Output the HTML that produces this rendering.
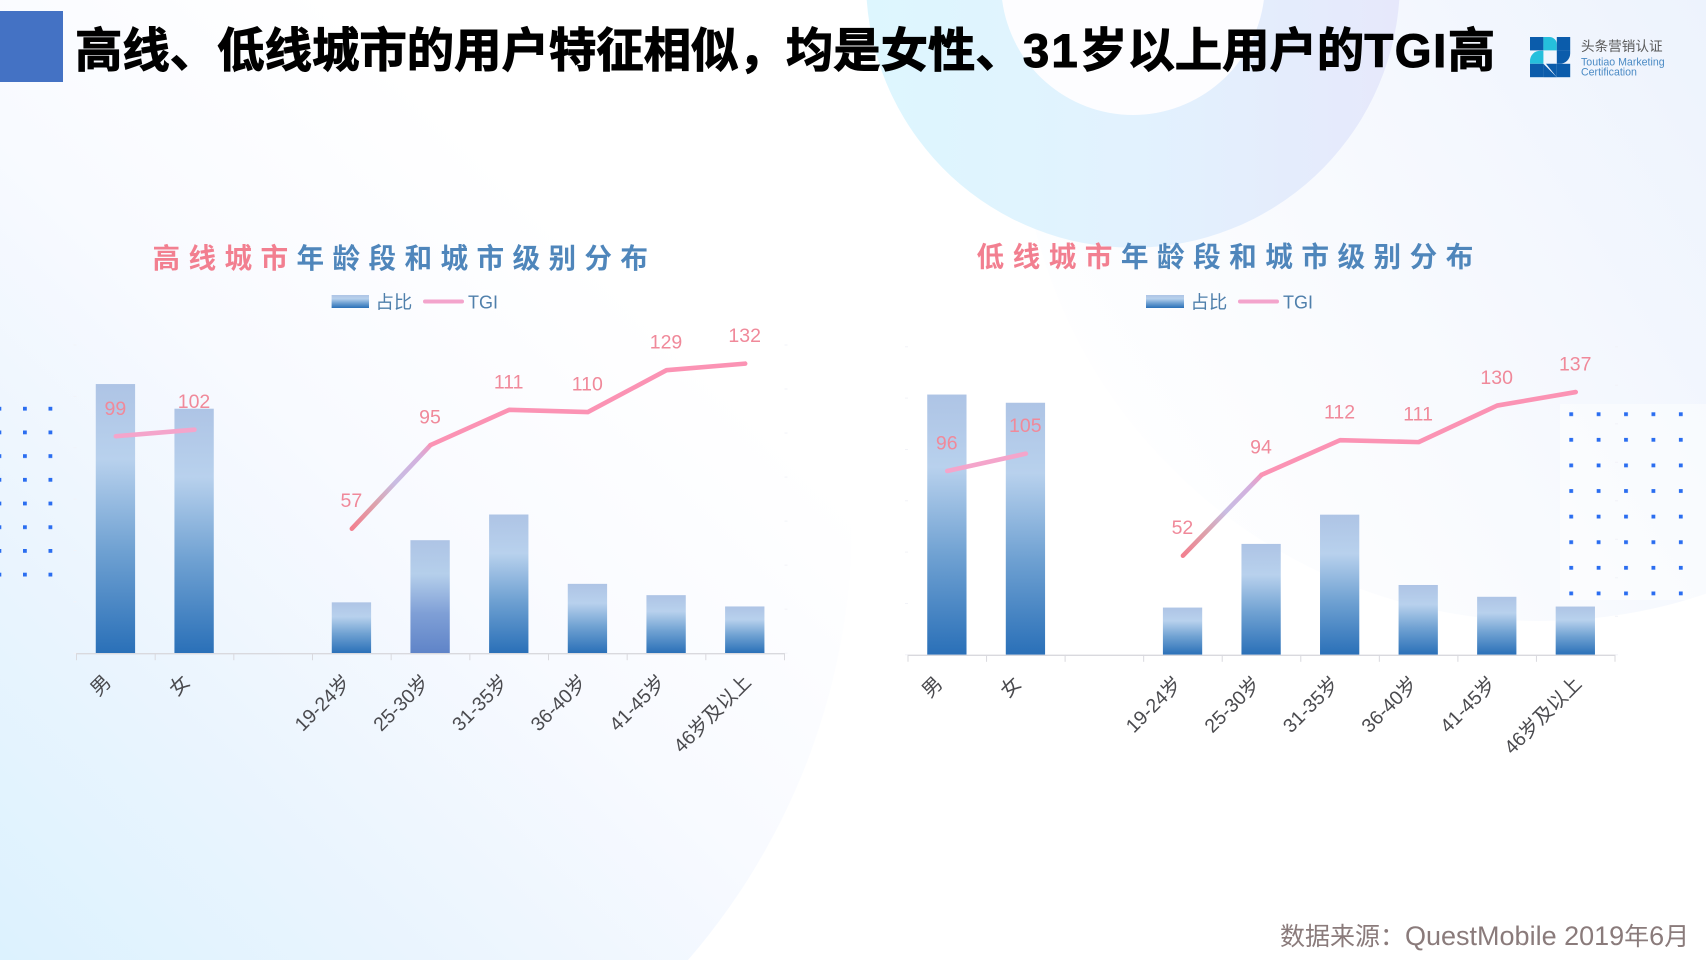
<!DOCTYPE html>
<html lang="zh">
<head>
<meta charset="utf-8">
<title>高线、低线城市用户特征</title>
<style>
html,body{margin:0;padding:0;width:1706px;height:960px;overflow:hidden;background:#fff}
#stage{position:relative;width:1706px;height:960px;overflow:hidden;font-family:"Liberation Sans","Noto Sans CJK SC",sans-serif}
svg{position:absolute;left:0;top:0}
#slide-title{position:absolute;left:75px;top:17px;font-size:47.4px;line-height:70px;font-weight:700;color:#000;white-space:nowrap;-webkit-text-stroke:1px #000}
#slide-title .num{letter-spacing:2.2px}
#slide-title .lat{letter-spacing:1.5px}
#source-note{position:absolute;left:1280px;top:919px;font-size:25px;line-height:34px;color:#8a7b7b;white-space:nowrap}
#source-note .lat{font-size:27px}
#accent-block{position:absolute;left:0;top:11px;width:63px;height:71px;background:#4472c4}
</style>
</head>
<body>
<div id="stage">
<svg id="bg" width="1706" height="960" viewBox="0 0 1706 960">
  <defs>
    <linearGradient id="bgLeft" gradientUnits="userSpaceOnUse" x1="0" y1="960" x2="640" y2="300">
      <stop offset="0" stop-color="#dcf2fe"/>
      <stop offset=".3" stop-color="#e9f4fe"/>
      <stop offset=".65" stop-color="#f8faff"/>
      <stop offset="1" stop-color="#ffffff"/>
    </linearGradient>
    <linearGradient id="bgRight" gradientUnits="userSpaceOnUse" x1="1040" y1="420" x2="1706" y2="0">
      <stop offset="0" stop-color="#ffffff"/>
      <stop offset=".45" stop-color="#f8fafe"/>
      <stop offset="1" stop-color="#edf3fd"/>
    </linearGradient>
    <linearGradient id="ringFill" gradientUnits="userSpaceOnUse" x1="866" y1="0" x2="1400" y2="0">
      <stop offset="0" stop-color="#ddf6fe"/>
      <stop offset=".5" stop-color="#e2f2fe"/>
      <stop offset="1" stop-color="#e6e8fb"/>
    </linearGradient>
    <pattern id="dotsLeft" x="-2.5" y="406.8" width="25.5" height="23.7" patternUnits="userSpaceOnUse">
      <rect width="3.8" height="3.8" fill="#2a6df0"/>
    </pattern>
    <pattern id="dotsRight" x="1569.3" y="412.3" width="27.4" height="25.6" patternUnits="userSpaceOnUse">
      <rect width="3.8" height="3.8" fill="#2a6df0"/>
    </pattern>
  </defs>
  <rect width="1706" height="960" fill="#ffffff"/>
  <path d="M0 0H605.6A672 672 0 0 1 688 960H0Z" fill="url(#bgLeft)"/>
  <path d="M1028.7 0H1706V593.8A521 521 0 0 1 1028.7 0Z" fill="url(#bgRight)"/>
  <path d="M1002.1 0A132 132 0 0 0 1263.9 0Z" fill="#fdfdff"/>
  <path d="M866.7 0A267 267 0 0 0 1399.3 0H1263.9A132 132 0 0 1 1002.1 0Z" fill="url(#ringFill)"/>
  <rect x="0" y="406" width="53" height="172" fill="url(#dotsLeft)"/>
  <rect x="1560" y="404" width="146" height="196" fill="#ffffff" opacity=".45"/>
  <rect x="1569" y="412" width="116" height="185" fill="url(#dotsRight)"/>
</svg>

<div id="accent-block"></div>
<div id="slide-title">高线、低线城市的用户特征相似，均是女性、<span class="num">31</span>岁以上用户的<span class="lat">TGI</span>高</div>

<svg id="logo" width="1706" height="960" viewBox="0 0 1706 960">
  <g>
    <rect x="1530" y="37" width="13.4" height="13.4" fill="#0b5cab"/>
    <path d="M1543.4 37h6a7.4 7.4 0 0 1 7.4 7.4v6h-13.4z" fill="#25bfdc"/>
    <rect x="1556.8" y="37" width="13.4" height="13.4" fill="#0b5cab"/>
    <path d="M1530 63.8v-3a10 10 0 0 1 10-10h3.4v13z" fill="#25bfdc"/>
    <path d="M1556.8 50.4h13.4v3a10.4 10.4 0 0 1-10.4 10.4h-3z" fill="#0b5cab"/>
    <rect x="1530" y="63.8" width="13.4" height="13.4" fill="#0b5cab"/>
    <path d="M1543.4 63.8l13.4 13.4h-13.4z" fill="#0b5cab"/>
    <path d="M1546 63.8h10.8v13.4z" fill="#0b5cab"/>
    <rect x="1556.8" y="63.8" width="13.4" height="13.4" fill="#0b5cab"/>
  </g>
  <text x="1581" y="51" font-size="13.6" fill="#5a5a5a" font-family="'Liberation Sans','Noto Sans CJK SC',sans-serif">头条营销认证</text>
  <text x="1581" y="65.5" font-size="10.6" fill="#4a8ac4" font-family="'Liberation Sans',sans-serif">Toutiao Marketing</text>
  <text x="1581" y="75.5" font-size="10.6" fill="#4a8ac4" font-family="'Liberation Sans',sans-serif">Certification</text>
</svg>

<svg id="charts" width="1706" height="960" viewBox="0 0 1706 960">
  <defs>
    <linearGradient id="barFill" x1="0" y1="0" x2="0" y2="1">
      <stop offset="0" stop-color="#aec4e5"/>
      <stop offset=".28" stop-color="#b8d1ed"/>
      <stop offset=".62" stop-color="#6fa1d2"/>
      <stop offset="1" stop-color="#2a70b8"/>
    </linearGradient>
    <linearGradient id="barFillViolet" x1="0" y1="0" x2="0" y2="1">
      <stop offset="0" stop-color="#aec4e5"/>
      <stop offset=".3" stop-color="#b5cfeb"/>
      <stop offset=".65" stop-color="#7f9fd6"/>
      <stop offset="1" stop-color="#5f84c8"/>
    </linearGradient>
    <linearGradient id="segRise" x1="0" y1="1" x2="1" y2="0">
      <stop offset="0" stop-color="#f2808f"/>
      <stop offset=".3" stop-color="#dca3ad"/>
      <stop offset=".55" stop-color="#c9bde3"/>
      <stop offset=".85" stop-color="#d3b0de"/>
      <stop offset="1" stop-color="#f09ac0"/>
    </linearGradient>
  </defs>

  <g>
    <text x="152.5" y="268" font-size="27.6" font-weight="700" letter-spacing="8.4" fill="#4f86bb"><tspan fill="#f27f90">高线城市</tspan>年龄段和城市级别分布</text>
  </g>
  <g>
    <rect x="331.6" y="295" width="37.4" height="13" fill="url(#barFill)"/>
    <text x="375.5" y="308.5" font-size="18.4" fill="#4f7fab">占比</text>
    <line x1="425" y1="301.5" x2="462" y2="301.5" stroke="#f3a4cc" stroke-width="4" stroke-linecap="round"/>
    <text x="468" y="308.5" font-size="18" fill="#4f7fab">TGI</text>
  </g>

  <g>
    <text x="976.5" y="266.5" font-size="27.6" font-weight="700" letter-spacing="8.5" fill="#4f86bb"><tspan fill="#f27f90">低线城市</tspan>年龄段和城市级别分布</text>
  </g>
  <g>
    <rect x="1146" y="295" width="38" height="13" fill="url(#barFill)"/>
    <text x="1190.5" y="308.5" font-size="18.4" fill="#4f7fab">占比</text>
    <line x1="1240" y1="301.5" x2="1277" y2="301.5" stroke="#f3a4cc" stroke-width="4" stroke-linecap="round"/>
    <text x="1283" y="308.5" font-size="18" fill="#4f7fab">TGI</text>
  </g>
</svg>

<div id="source-note">数据来源：<span class="lat">QuestMobile 2019</span>年<span class="lat">6</span>月</div>
</div>

<script>
const categories = ['男', '女', '', '19-24岁', '25-30岁', '31-35岁', '36-40岁', '41-45岁', '46岁及以上'];
const highShare = [52.4, 47.6, null, 9.9, 22, 27, 13.5, 11.3, 9.1];
const highTgi = [99, 102, null, 57, 95, 111, 110, 129, 132];
const lowShare = [50.7, 49.1, null, 9.2, 21.6, 27.3, 13.6, 11.3, 9.4];
const lowTgi = [96, 105, null, 52, 94, 112, 111, 130, 137];
const shareAxisMax = 60;
const shareAxisStep = 10;
const highTgiAxisMax = 140;
const lowTgiAxisMax = 160;
const tgiAxisStep = 20;

const SVG_NS = 'http://www.w3.org/2000/svg';
const root = document.getElementById('charts');

function make(tag, attrs, parent) {
  const el = document.createElementNS(SVG_NS, tag);
  for (const k in attrs) el.setAttribute(k, attrs[k]);
  parent.appendChild(el);
  return el;
}

function labelShift(text) {
  if (text.length === 1) return -5.5;
  if (text.includes('及')) return 5;
  return -2;
}

function drawChart(frame, shares, tgis, tgiMax) {
  const g = make('g', {}, root);
  
  

  const step = (frame.right - frame.left) / categories.length;
  const xCenter = i => frame.left + step * (i + 0.5);
  const yShare = v => frame.base - (v / shareAxisMax) * (frame.base - frame.top);
  const yTgi = v => frame.base + frame.lineDrop - (v / tgiMax) * (frame.base - frame.top);

  // faint value-axis ticks
  for (let v = 0; v <= shareAxisMax; v += shareAxisStep) {
    const t = make('line', {x1: frame.left - 3, x2: frame.left, y1: yShare(v), y2: yShare(v), stroke: '#f2f3f8', 'stroke-width': 1}, g);
    
    
  }
  for (let v = 0; v <= tgiMax; v += tgiAxisStep) {
    const t = make('line', {x1: frame.right, x2: frame.right + 3, y1: yShare(0) - (v / tgiMax) * (frame.base - frame.top), y2: yShare(0) - (v / tgiMax) * (frame.base - frame.top), stroke: '#f2f3f8', 'stroke-width': 1}, g);
    
    
  }

  // bars
  const barW = step * 0.5;
  shares.forEach((v, i) => {
    if (v === null) return;
    const fill = (frame.violetBar === i) ? 'url(#barFillViolet)' : 'url(#barFill)';
    const bar = make('rect', {x: xCenter(i) - barW / 2 - 0.4, y: yShare(v), width: barW, height: frame.base - yShare(v), fill: fill}, g);
    
    
  });

  // category axis
  const axis = make('line', {x1: frame.left, x2: frame.right, y1: frame.base + 0.5, y2: frame.base + 0.5, stroke: '#d9d9de', 'stroke-width': 1.3}, g);
  
  
  for (let i = 0; i <= categories.length; i++) {
    const x = frame.left + step * i;
    const tick = make('line', {x1: x, x2: x, y1: frame.base, y2: frame.base + 7, stroke: '#d9d9de', 'stroke-width': 1}, g);
    
    
  }

  // category labels
  categories.forEach((c, i) => {
    if (!c) return;
    const ax = xCenter(i) + 2 + labelShift(c);
    const ay = frame.base + 30;
    const label = make('text', {x: ax, y: ay, 'text-anchor': 'end', 'font-size': 19.5, fill: '#4a4a4e', transform: 'rotate(-45 ' + ax + ' ' + ay + ')'}, g);
    
    
    label.textContent = c;
  });

  // TGI line: male/female pair
  const pairPts = [0, 1].map(i => xCenter(i) + ',' + yTgi(tgis[i])).join(' ');
  const pair = make('polyline', {points: pairPts, fill: 'none', stroke: '#f4a5cb', 'stroke-width': 4.6, 'stroke-linecap': 'round', 'stroke-linejoin': 'round'}, g);
  
  

  // TGI line: age groups, first segment has its own colour ramp
  const rise = make('line', {x1: xCenter(3), y1: yTgi(tgis[3]), x2: xCenter(4), y2: yTgi(tgis[4]), stroke: 'url(#segRise)', 'stroke-width': 4.6, 'stroke-linecap': 'round'}, g);
  
  
  const agePts = [4, 5, 6, 7, 8].map(i => xCenter(i) + ',' + yTgi(tgis[i])).join(' ');
  const age = make('polyline', {points: agePts, fill: 'none', stroke: '#fb93b4', 'stroke-width': 4.6, 'stroke-linecap': 'round', 'stroke-linejoin': 'round'}, g);
  
  

  // value labels
  tgis.forEach((v, i) => {
    if (v === null) return;
    const t = make('text', {x: xCenter(i) - 0.5, y: yTgi(v) - 21.5, 'text-anchor': 'middle', 'font-size': 19.5, fill: '#f0899a'}, g);
    
    
    t.textContent = v;
  });
}

drawChart({name: 'chart-high-tier', left: 76.5, right: 784.5, base: 653.2, top: 345, lineDrop: 1, violetBar: 4}, highShare, highTgi, highTgiAxisMax);
drawChart({name: 'chart-low-tier', left: 908, right: 1615, base: 654.8, top: 346.8, lineDrop: 1, violetBar: -1}, lowShare, lowTgi, lowTgiAxisMax);
</script>
</body>
</html>
